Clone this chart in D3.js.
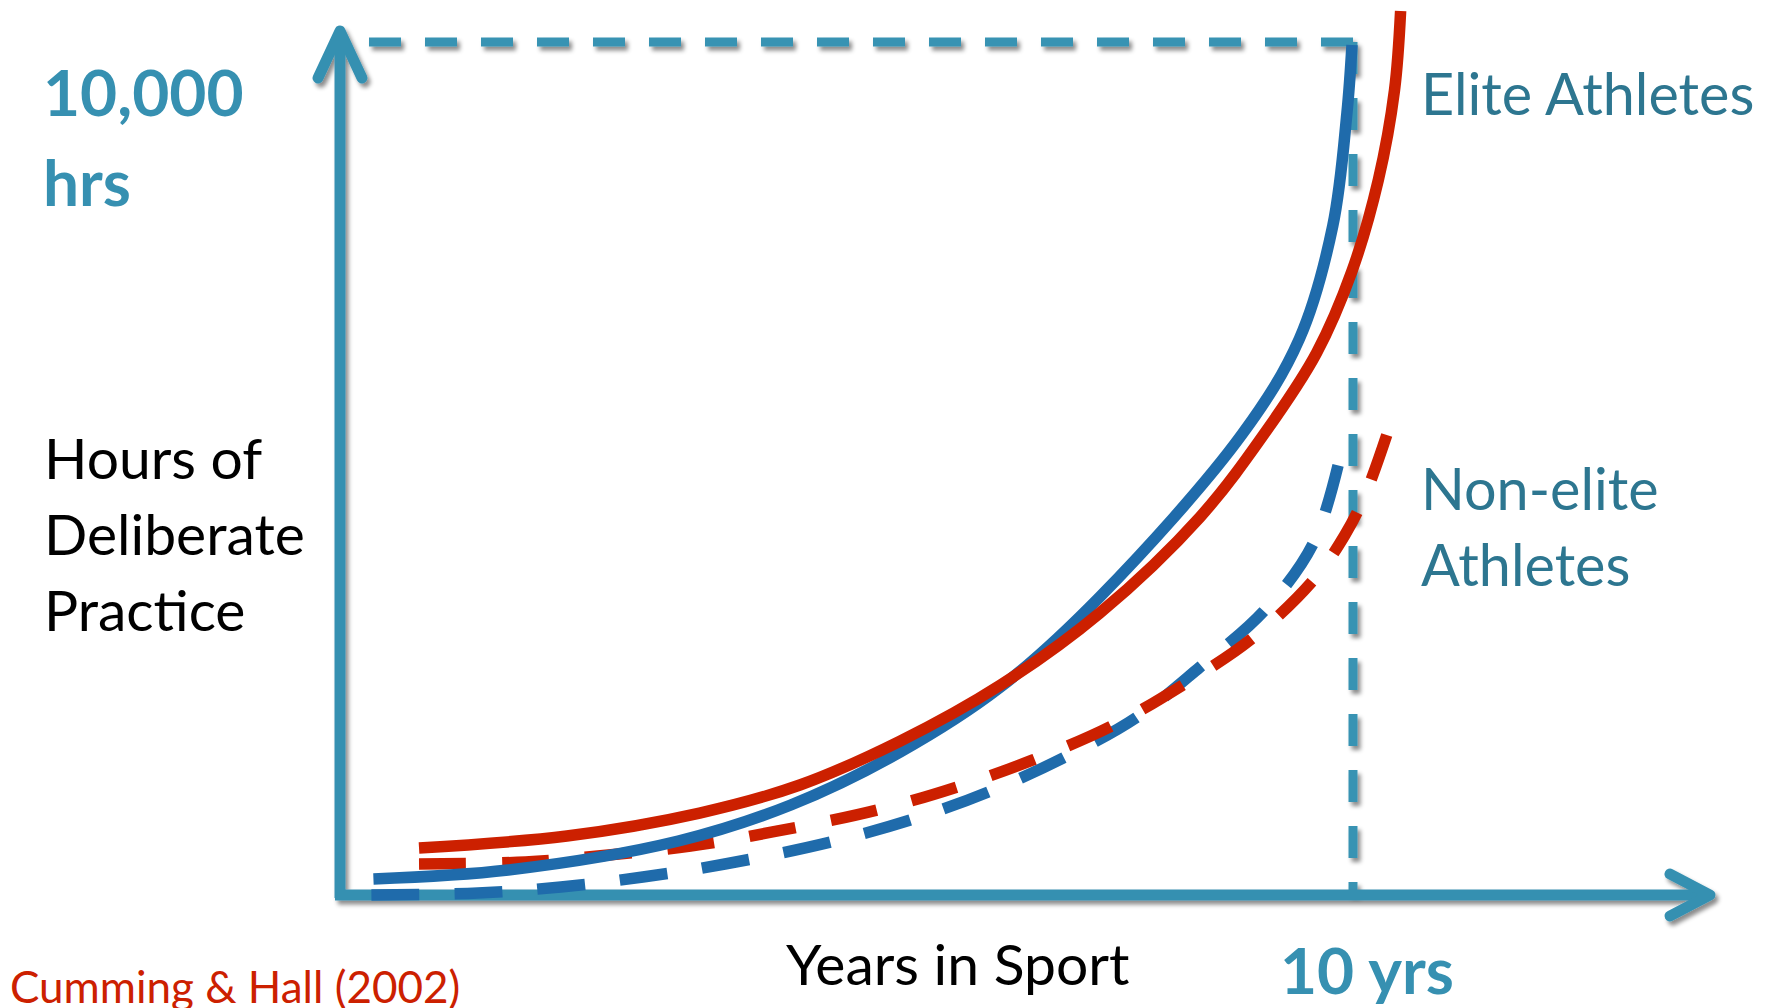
<!DOCTYPE html>
<html>
<head>
<meta charset="utf-8">
<script src="https://cdn.jsdelivr.net/npm/d3@7/dist/d3.min.js"></script>
<style>
  html, body { margin: 0; padding: 0; background: #ffffff; overflow: hidden; }
  svg { display: block; }
  text { font-family: Lato, "Open Sans", "DejaVu Sans", sans-serif; }
</style>
</head>
<body>
<svg id="chart" width="1771" height="1008"></svg>
<script>
// ---------------- data (years in sport, hours of deliberate practice) ----------------
const eliteRed = [
  [0.78, 551], [2.24, 692], [3.55, 961], [4.54, 1290], [5.53, 1805], [6.52, 2462],
  [7.50, 3306], [8.49, 4431], [9.15, 5451], [9.64, 6354], [9.99, 7315],
  [10.25, 8382], [10.41, 9437], [10.47, 10363]
];
const eliteBlue = [
  [0.33, 188], [1.66, 293], [3.34, 633], [4.45, 1055], [5.53, 1676], [6.52, 2438],
  [7.50, 3494], [8.90, 5393], [9.47, 6518], [9.80, 7843], [9.94, 9168], [9.99, 9965]
];
const nonEliteRed = [
  [0.78, 363], [1.83, 387], [2.65, 469], [3.46, 574], [4.27, 739], [5.30, 996],
  [6.09, 1266], [6.84, 1583], [7.60, 1970], [8.32, 2462], [9.01, 3013],
  [9.61, 3693], [9.92, 4220], [10.12, 4690], [10.34, 5416]
];
const nonEliteBlue = [
  [0.31, 0], [1.36, 23], [2.18, 94], [2.99, 211], [3.80, 363], [4.84, 621],
  [5.63, 879], [6.40, 1208], [7.16, 1618], [7.87, 2087], [8.49, 2673],
  [9.13, 3341], [9.61, 4127], [9.87, 5123]
];
const xDomain = [0, 10];
const yDomain = [0, 10000];
const xTickLabels = ["10 yrs"];
const yTickLabels = ["10,000", "hrs"];
const yTitleLines = ["Hours of", "Deliberate", "Practice"];
const xTitle = "Years in Sport";
const groupLabels = [["Elite Athletes"], ["Non-elite", "Athletes"]];
const sourceNote = "Cumming & Hall (2002)";

// ---------------- setup ----------------
const TEAL = "#3690b1", TEAL_DARK = "#2d7690", RED = "#cc2000", BLUE = "#1f6bab";
const svg = d3.select("#chart");
const defs = svg.append("defs");
const f = defs.append("filter").attr("id", "shadow")
  .attr("x", "-20%").attr("y", "-20%").attr("width", "140%").attr("height", "140%");
f.append("feDropShadow").attr("dx", 3).attr("dy", 4).attr("stdDeviation", 2.2)
  .attr("flood-color", "#000").attr("flood-opacity", 0.45);

const x = d3.scaleLinear().domain(xDomain).range([340, 1353]);
const y = d3.scaleLinear().domain(yDomain).range([895, 42]);

// reference dashed lines (10 years / 10,000 hours)
const ref = svg.append("g").attr("filter", "url(#shadow)")
  .attr("stroke", "#3893b3").attr("stroke-width", 9).attr("fill", "none")
  .attr("stroke-dasharray", "32,24");
ref.append("path").attr("d", d3.line()([[x(10), y(10000)], [x(0), y(10000)]]));
ref.append("path").attr("d", d3.line()([[x(10), y(10000)], [x(10), y(0)]]));

// axes with arrows
const ax = svg.append("g").attr("filter", "url(#shadow)")
  .attr("stroke", TEAL).attr("stroke-width", 11).attr("fill", "none")
  .attr("stroke-linecap", "round").attr("stroke-linejoin", "round");
ax.append("path").attr("d", d3.line()([[x(0), y(0) + 3], [x(0), 32]])).attr("stroke-linecap", "butt");
ax.append("path").attr("d", d3.line()([[x(0) - 22, 78], [x(0), 31], [x(0) + 22, 78]]));
ax.append("path").attr("d", d3.line()([[x(0) - 5, y(0)], [1708, y(0)]])).attr("stroke-linecap", "butt");
ax.append("path").attr("d", d3.line()([[1670, y(0) - 21], [1710, y(0)], [1670, y(0) + 21]]));

// curves
const line = d3.line().x(d => x(d[0])).y(d => y(d[1])).curve(d3.curveCatmullRom.alpha(0.5));
const curves = svg.append("g").attr("fill", "none").attr("stroke-width", 11.5);
curves.append("path").datum(nonEliteBlue).attr("d", line)
  .attr("stroke", BLUE).attr("stroke-dasharray", "48,35");
curves.append("path").datum(nonEliteRed).attr("d", line)
  .attr("stroke", RED).attr("stroke-dasharray", "47,36");
curves.append("path").datum(eliteBlue).attr("d", line).attr("stroke", BLUE);
curves.append("path").datum(eliteRed).attr("d", line).attr("stroke", RED);

// y tick label
svg.append("g").selectAll("text").data(yTickLabels).join("text")
  .attr("x", 43).attr("y", (d, i) => 116 + i * 90)
  .attr("fill", TEAL).attr("font-weight", 700).attr("font-size", 64)
  .text(d => d);

// x tick label
svg.append("text").attr("x", x(10) - 73).attr("y", 994)
  .attr("fill", TEAL).attr("font-weight", 700).attr("font-size", 64)
  .text(xTickLabels[0]);

// y title
svg.append("g").selectAll("text").data(yTitleLines).join("text")
  .attr("x", 44).attr("y", (d, i) => 479 + i * 76)
  .attr("fill", "#000").attr("font-size", 57).text(d => d);

// x title
svg.append("text").attr("x", 786).attr("y", 985)
  .attr("fill", "#000").attr("font-size", 57).text(xTitle);

// group labels
const glY = [115, 510];
groupLabels.forEach((lines, g) => {
  svg.append("g").selectAll("text").data(lines).join("text")
    .attr("x", 1421).attr("y", (d, i) => glY[g] + i * 76)
    .attr("fill", TEAL_DARK).attr("font-size", 57.5).text(d => d);
});

// source note (cut by the bottom edge, as in the original slide)
svg.append("text").attr("x", 10).attr("y", 1003)
  .attr("fill", RED).attr("font-size", 44).text(sourceNote);
</script>
</body>
</html>
